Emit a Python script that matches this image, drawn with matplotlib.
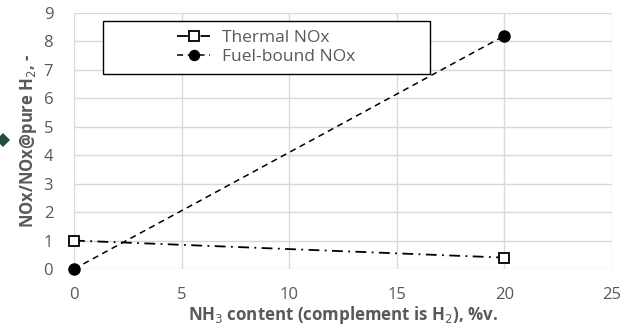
import matplotlib
matplotlib.use("Agg")
import matplotlib.pyplot as plt
from matplotlib.patches import Rectangle, Polygon

plt.rcParams['font.family'] = ['Open Sans', 'DejaVu Sans']

nh3 = [0, 20]
thermal_nox = [1.0, 0.4]
fuel_nox = [0.0, 8.2]
x_ticks = [0, 5, 10, 15, 20, 25]
y_ticks = list(range(0, 10))

text_gray = '#595959'
grid_gray = '#d9d9d9'

fig = plt.figure(figsize=(6.26, 3.35), dpi=100)
ax = fig.add_axes([74/626, 66/335, 538/626, 256/335])

ax.plot(nh3, thermal_nox, color='black', lw=1.3, dashes=(6, 3, 1, 3),
        marker='s', ms=7.5, mfc='white', mec='black', mew=1.3,
        label='Thermal NOx', zorder=3, clip_on=False)
ax.plot(nh3, fuel_nox, color='black', lw=1.1, dashes=(4, 3),
        marker='o', ms=8, mfc='black', mec='black',
        label='Fuel-bound NOx', zorder=3, clip_on=False)

ax.set_xlim(0, 25)
ax.set_ylim(0, 9)
ax.set_xticks(x_ticks)
ax.set_yticks(y_ticks)
ax.grid(True, color=grid_gray, lw=1)
ax.set_axisbelow(True)
for s in ax.spines.values():
    s.set_visible(False)
ax.tick_params(length=0, labelsize=12, colors=text_gray)
ax.tick_params(axis='x', pad=13)
ax.tick_params(axis='y', pad=15)

ax.set_xlabel('NH$_3$ content (complement is H$_2$), %v.', fontsize=12.2,
              fontweight='bold', color=text_gray, labelpad=1)
ax.set_ylabel('NOx/NOx@pure H$_2$, -', fontsize=12,
              fontweight='bold', color=text_gray, labelpad=3)

# Legend box
fig.patches.append(Rectangle((103/626, 1 - 74/335), 327/626, 53/335,
                             transform=fig.transFigure, fill=True,
                             facecolor='white', edgecolor='black', lw=1.0,
                             zorder=5))
leg = fig.legend(loc='center', bbox_to_anchor=((103 + 327/2)/626, 1 - 47.5/335),
                 frameon=False, fontsize=12.5, handlelength=1.9,
                 handletextpad=0.7, labelspacing=0.15, borderpad=0,
                 markerscale=0.9)
leg.set_zorder(6)
for t in leg.get_texts():
    t.set_color(text_gray)

# Small selection marker at the left edge
fig.patches.append(Polygon([(-4/626, 1 - 140/335), (3/626, 1 - 133/335),
                            (10/626, 1 - 140/335), (3/626, 1 - 147/335)],
                           closed=True, transform=fig.transFigure,
                           facecolor='#1f4e3d', edgecolor='none'))

fig.savefig('out.png', dpi=100)
